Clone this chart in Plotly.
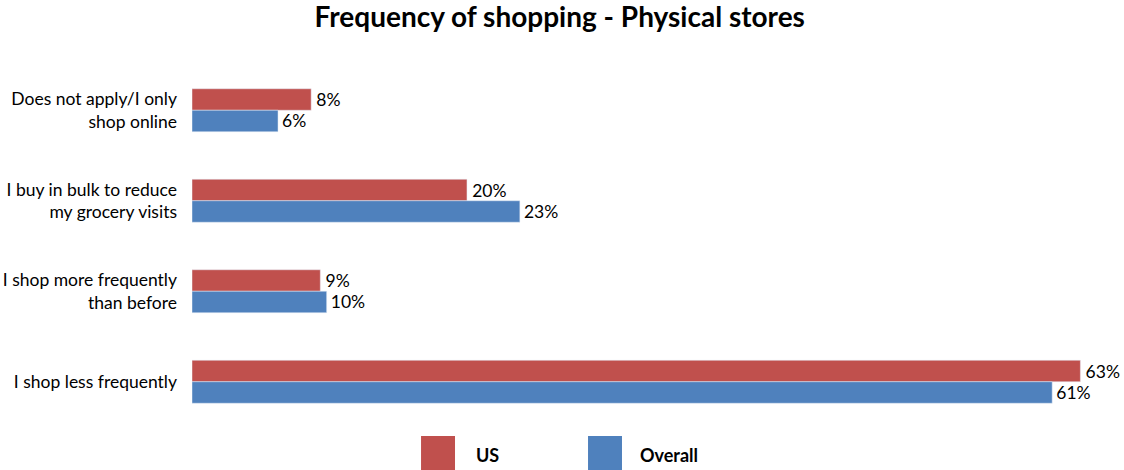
import plotly.graph_objects as go

categories = [
    "Does not apply/I only<br>shop online",
    "I buy in bulk to reduce<br>my grocery visits",
    "I shop more frequently<br>than before",
    "I shop less frequently",
]
# bar lengths (the labels are rounded)
us_values = [8.45, 19.5, 9.1, 63]
overall_values = [6.1, 23.25, 9.55, 61]
us_labels = ["8%", "20%", "9%", "63%"]
overall_labels = ["6%", "23%", "10%", "61%"]

red = "#C0504D"
blue = "#4F81BD"
font = "Lato, 'Open Sans', sans-serif"

fig = go.Figure()
fig.add_trace(go.Bar(y=categories, x=us_values, name="US", orientation="h",
                     marker_color=red, text=us_labels, texttemplate="\u2009%{text}",
                     textposition="outside", cliponaxis=False))
fig.add_trace(go.Bar(y=categories, x=overall_values, name="Overall", orientation="h",
                     marker_color=blue, text=overall_labels, texttemplate="\u200a%{text}",
                     textposition="outside", cliponaxis=False))

# legend drawn by hand to get the big squares
legend_items = [("US", red, 0.2495, 0.3072), ("Overall", blue, 0.4314, 0.4858)]
for name, col, x0, tx in legend_items:
    fig.add_shape(type="rect", xref="paper", yref="paper", x0=x0, x1=x0 + 0.037,
                  y0=-0.025, y1=-0.14, fillcolor=col, line_width=0)
    fig.add_annotation(text="<b>" + name + "</b>", xref="paper", yref="paper",
                       x=tx, y=-0.077, xanchor="left", yanchor="middle",
                       showarrow=False, font=dict(size=18, color="#000"))

fig.update_layout(
    width=1124, height=470,
    margin=dict(l=192, r=14, t=65, b=43, autoexpand=False),
    paper_bgcolor="white", plot_bgcolor="white",
    font=dict(family=font, size=17.5, color="#000"),
    title=dict(text="<b>Frequency of shopping - Physical stores</b>", x=0.498, xref="container",
               y=0.964, yanchor="middle", font=dict(size=28)),
    barmode="group", bargap=0.525, bargroupgap=0,
    showlegend=False,
)
fig.update_xaxes(range=[0, 65.1], visible=False, automargin=False)
fig.update_yaxes(autorange="reversed", showline=False, ticks="", ticklabelstandoff=14,
                 showgrid=False, automargin=False)

# drop the default 8px body margin so the figure sits at the window corner
fig.write_html("out.html", config={"displayModeBar": False},
               post_script="document.body.style.margin='0';")
